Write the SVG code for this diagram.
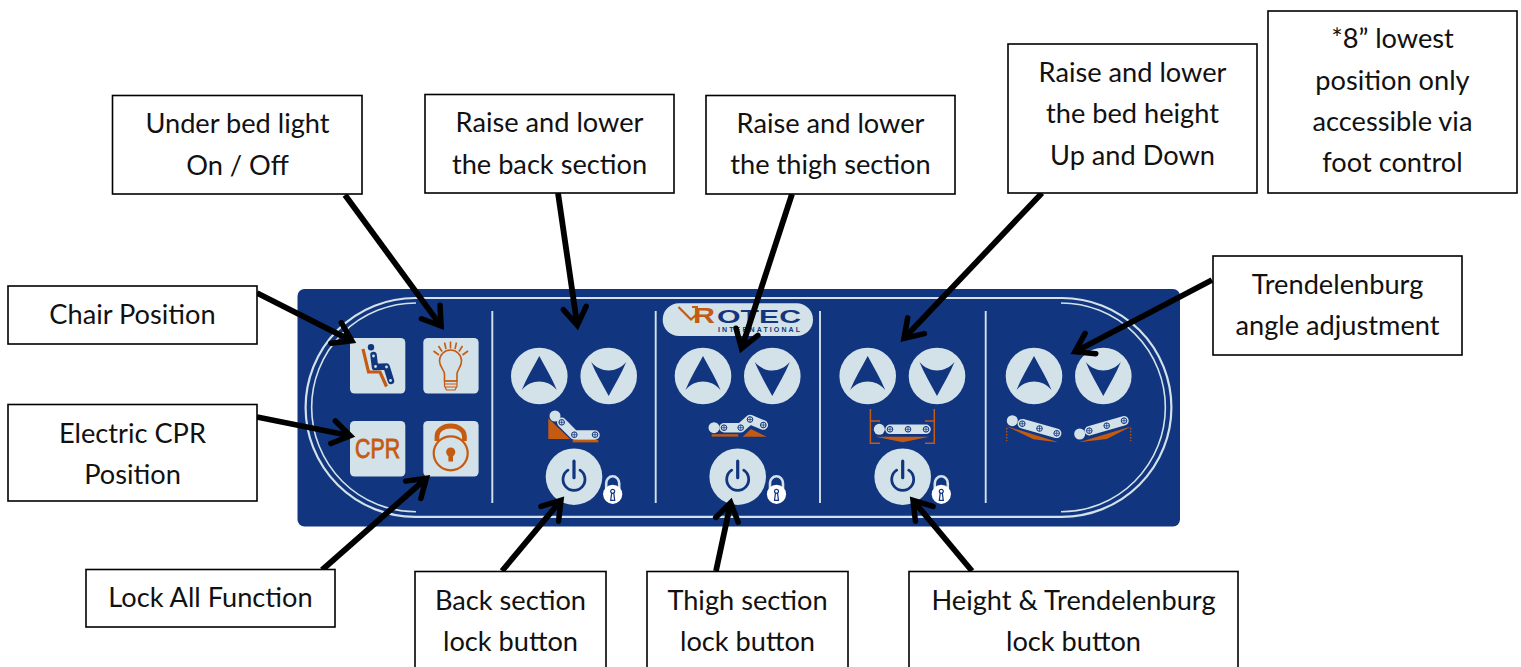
<svg xmlns="http://www.w3.org/2000/svg" width="1521" height="667" viewBox="0 0 1521 667">
<style>
.box{fill:#fff;stroke:#000;stroke-width:1.6}
.t{font-family:"Lato","Carlito","Open Sans",sans-serif;font-size:27.2px;fill:#111;text-anchor:middle}
.c{fill:#d2e2e8}
.n{fill:#12357f}
.o{fill:#c55a11}
.ring{fill:none;stroke:#d2e2e8}
.div{stroke:#d2e2e8;stroke-width:1.9}
.link{fill:none;stroke:#d2e2e8;stroke-width:9.5;stroke-linecap:round;stroke-linejoin:round}
.conn{fill:none;stroke:#000;stroke-width:5.8;marker-end:url(#ah)}
</style>
<defs>
<marker id="ah" markerUnits="userSpaceOnUse" markerWidth="60" markerHeight="60" refX="30.8" refY="30" orient="auto" viewBox="0 0 60 60">
<path d="M14.5 18.5 L32 30 L14.5 41.5" fill="none" stroke="#000" stroke-width="5.5" stroke-linecap="round" stroke-linejoin="miter"/>
</marker>
<g id="up"><circle r="28.3" class="c"/><path class="n" d="M0-20 C6-9 13 3 17.5 14 C8 2.7-8 2.7-17.5 14 C-13 3-6-9 0-20Z"/></g>
<g id="down"><circle r="28.3" class="c"/><path class="n" d="M0 20 C6 9 13-3 17.5-14 C8-2.7-8-2.7-17.5-14 C-13-3-6 9 0 20Z"/></g>
<g id="power"><circle r="28.3" class="c"/><path d="M-6-6.5 A11 11 0 1 0 6-6.5" fill="none" stroke="#12357f" stroke-width="2.8" stroke-linecap="round"/><path d="M0-15.5 V1" stroke="#12357f" stroke-width="3.2" stroke-linecap="round"/></g>
<g id="minilock"><path d="M-6.5-3 V-11 A6.5 7 0 0 1 6.5-11 V-3" fill="none" stroke="#d2e2e8" stroke-width="2.6"/><circle r="9.6" fill="#fff"/><circle cy="-3" r="2" fill="none" stroke="#12357f" stroke-width="1.2"/><path d="M-1-1.5 L-2 6 H2 L1-1.5" fill="none" stroke="#12357f" stroke-width="1.2"/></g>
<g id="hole"><circle r="2.8" fill="#d2e2e8" stroke="#12357f" stroke-width="1"/><path d="M-2.8 0 H2.8 M0-2.8 V2.8" stroke="#12357f" stroke-width=".7"/></g>
<rect id="tile" width="55.3" height="55.6" rx="4.5" class="c"/>
</defs>

<g id="panel">
<rect x="297.5" y="289" width="882.5" height="237.5" rx="7" class="n"/>
<path class="ring" stroke-width="2.2" d="M415 298 H1062 A109.4 109.4 0 0 1 1062 516.8 H415 A109.4 109.4 0 0 1 415 298Z"/>
<path class="ring" stroke-width="1.6" d="M416 303 A104.4 104.4 0 0 0 416 511.8"/>
<path class="ring" stroke-width="1.6" d="M1061 303 A104.4 104.4 0 0 1 1061 511.8"/>
<path class="div" d="M492.3 311 V503 M655.7 311 V503 M820 311 V503 M985.7 311 V503"/>
</g>

<g id="btn-chair">
<use href="#tile" x="350" y="338"/>
<circle cx="371" cy="347.3" r="3.2" class="n"/>
<path d="M363 349 L368.5 372 H380 L386.5 386.5" fill="none" stroke="#c55a11" stroke-width="3.2"/>
<path d="M373.5 355 L375 367 L386.5 366.5 L391 381" fill="none" stroke="#12357f" stroke-width="6.5" stroke-linecap="round" stroke-linejoin="round"/>
<circle cx="373.5" cy="356" r="1.4" class="c"/><circle cx="375.5" cy="366.5" r="1.4" class="c"/><circle cx="386.5" cy="367" r="1.4" class="c"/><circle cx="390.5" cy="380.5" r="1.4" class="c"/>
</g>
<g id="btn-light">
<use href="#tile" x="423.3" y="338"/>
<path d="M444.5 381 V374 C444.5 370 439.5 367 439.5 361 A11 11 0 0 1 461.5 361 C461.5 367 457 370 457 374 V381 Z" fill="none" stroke="#c55a11" stroke-width="1.6"/>
<path d="M444.5 381 H457 V386 L455 390 H446.5 L444.5 386Z M444.5 384 H457 M445 387 H456" fill="none" stroke="#c55a11" stroke-width="1.2"/>
<path d="M433.5 351 L439 355 M438.5 346 L442 351.5 M444.5 342.5 L446 349 M450.5 341.5 V348.5 M456.5 342.5 L455 349 M462.5 346 L459 351.5 M468 351 L462.5 355" fill="none" stroke="#c55a11" stroke-width="1.6"/>
</g>
<g id="btn-cpr">
<use href="#tile" x="350" y="421"/>
<text x="377.6" y="0" transform="translate(0 457.7) scale(1 1.04)" font-family="'Liberation Sans',Arial,sans-serif" font-size="26" fill="#c55a11" stroke="#c55a11" stroke-width=".8" text-anchor="middle" textLength="45" lengthAdjust="spacingAndGlyphs">CPR</text>
</g>
<g id="btn-lock">
<use href="#tile" x="423.3" y="421"/>
<path d="M437 441 V436 A13.7 10 0 0 1 464.4 436 V441" fill="none" stroke="#c55a11" stroke-width="4.8"/>
<circle cx="450.7" cy="453.3" r="17" fill="#d2e2e8" stroke="#c55a11" stroke-width="2.2"/>
<circle cx="450.7" cy="452" r="4.6" class="o"/>
<rect x="448.4" y="452" width="4.6" height="9.5" class="o"/>
</g>

<g id="logo">
<rect x="662.7" y="303.3" width="150.3" height="32.7" rx="16.3" class="c"/>
<path d="M678.5 307 L691 319.5 L698 313 M692 307 H698" fill="none" stroke="#c55a11" stroke-width="2.2"/>
<text x="704" y="323" font-family="'Liberation Sans',sans-serif" font-weight="700" font-size="22" fill="#c55a11" text-anchor="middle" textLength="22" lengthAdjust="spacingAndGlyphs">R</text>
<text x="717" y="323" font-family="'Liberation Sans',sans-serif" font-weight="700" font-size="18" fill="#12357f" textLength="84" lengthAdjust="spacingAndGlyphs">OTEC</text>
<text x="718" y="332" font-family="'Liberation Sans',sans-serif" font-weight="700" font-size="7" fill="#12357f" textLength="82" lengthAdjust="spacing">INTERNATIONAL</text>
</g>

<g id="section-back">
<use href="#up" x="539.3" y="376"/><use href="#down" x="608.7" y="376"/>
<path class="o" d="M548.3 418.3 V439 H570Z"/>
<path class="link" d="M561.7 422.3 L574.3 435 H595"/>
<circle cx="555" cy="416" r="5.5" class="c"/>
<use href="#hole" x="561.7" y="422.3"/><use href="#hole" x="574.3" y="434.7"/><use href="#hole" x="595" y="434.7"/>
<rect x="572.7" y="440" width="25.6" height="2.4" class="o"/>
<use href="#power" x="574" y="476.7"/><use href="#minilock" x="612.7" y="494.3"/>
</g>

<g id="section-thigh">
<use href="#up" x="703" y="376"/><use href="#down" x="772.3" y="376"/>
<circle cx="714" cy="427.7" r="5.5" class="c"/>
<path class="link" d="M724 427.7 H740.7 L750 419.5 L763.3 425"/>
<use href="#hole" x="724" y="427.7"/><use href="#hole" x="740.7" y="427.7"/><use href="#hole" x="750" y="419.5"/><use href="#hole" x="763.3" y="425"/>
<rect x="711.7" y="434.2" width="26.6" height="2.4" class="o"/>
<path class="o" d="M742.7 436.7 L751 429 L766.7 436.7Z"/>
<use href="#power" x="737.7" y="476.7"/><use href="#minilock" x="776.5" y="494.3"/>
</g>

<g id="section-height">
<use href="#up" x="867.7" y="376"/><use href="#down" x="937" y="376"/>
<path d="M880 421 H870.4 M870.4 409 V443.3 H880 M925 421 H934.3 M934.3 409 V443.3 H925" fill="none" stroke="#c55a11" stroke-width="1.5"/>
<circle cx="879.3" cy="429.3" r="5.5" class="c"/>
<path class="link" d="M890 429.3 H926"/>
<use href="#hole" x="890" y="429.3"/><use href="#hole" x="908" y="429.3"/><use href="#hole" x="926" y="429.3"/>
<path class="o" d="M875.7 436.7 H929.3 L902.7 442.3Z"/>
<use href="#power" x="902.7" y="476.7"/><use href="#minilock" x="941.3" y="494.3"/>
</g>

<g id="section-trend">
<use href="#up" x="1034" y="376"/><use href="#down" x="1103.3" y="376"/>
<circle cx="1012.3" cy="420.7" r="5.5" class="c"/>
<path class="link" d="M1022.3 423.7 L1056.7 433.3"/>
<use href="#hole" x="1022.3" y="423.7"/><use href="#hole" x="1039.5" y="428.5"/><use href="#hole" x="1056.7" y="433.3"/>
<path class="o" d="M1006 426 L1033.3 439.3 L1058.3 442.3Z"/>
<path d="M1006.7 428 V441 M1130.7 428 V441" stroke="#c55a11" stroke-width="1.2" stroke-dasharray="1.5 1.5"/>
<circle cx="1079.7" cy="434" r="5.5" class="c"/>
<path class="link" d="M1089.3 430.7 L1124 420.7"/>
<use href="#hole" x="1089.3" y="430.7"/><use href="#hole" x="1106.7" y="425.7"/><use href="#hole" x="1124" y="420.7"/>
<path class="o" d="M1079 442.3 L1131.7 426.3 L1106.7 439Z"/>
</g>

<g id="connectors">
<path class="conn" d="M257 293 L350.7 340.3"/>
<path class="conn" d="M345 195 L440.4 325.1"/>
<path class="conn" d="M558 193 L577.1 324.1"/>
<path class="conn" d="M792 194 L741.9 347.3"/>
<path class="conn" d="M1042 193 L904.8 337.6"/>
<path class="conn" d="M1212 280 L1076 351.2"/>
<path class="conn" d="M257 417 L349.1 435.5"/>
<path class="conn" d="M322 570 L425.5 479"/>
<path class="conn" d="M502 571 L560.2 501.3"/>
<path class="conn" d="M716 571 L730.4 503.9"/>
<path class="conn" d="M972 571 L913.8 501.3"/>
</g>

<g id="n-light"><rect class="box" x="112.5" y="95.5" width="249.5" height="98.5"/><text class="t" x="237.5" y="133">Under bed light</text><text class="t" x="237.5" y="175">On / Off</text></g>
<g id="n-back"><rect class="box" x="425" y="94.5" width="249" height="98.5"/><text class="t" x="549.5" y="132">Raise and lower</text><text class="t" x="549.5" y="174">the back section</text></g>
<g id="n-thigh"><rect class="box" x="706" y="95.5" width="249" height="98.5"/><text class="t" x="830.5" y="133">Raise and lower</text><text class="t" x="830.5" y="174">the thigh section</text></g>
<g id="n-height"><rect class="box" x="1008" y="44" width="249" height="149"/><text class="t" x="1132.5" y="82">Raise and lower</text><text class="t" x="1132.5" y="123">the bed height</text><text class="t" x="1132.5" y="165">Up and Down</text></g>
<g id="n-lowest"><rect class="box" x="1268" y="11" width="249" height="182"/><text class="t" x="1392.5" y="48">*8” lowest</text><text class="t" x="1392.5" y="90">position only</text><text class="t" x="1392.5" y="131">accessible via</text><text class="t" x="1392.5" y="172">foot control</text></g>
<g id="n-trend"><rect class="box" x="1213" y="256" width="249" height="99"/><text class="t" x="1337.5" y="294">Trendelenburg</text><text class="t" x="1337.5" y="335">angle adjustment</text></g>
<g id="n-chair"><rect class="box" x="8" y="286" width="249" height="58"/><text class="t" x="132.5" y="324">Chair Position</text></g>
<g id="n-cpr"><rect class="box" x="8" y="404.5" width="249" height="96.5"/><text class="t" x="132.5" y="443">Electric CPR</text><text class="t" x="132.5" y="484">Position</text></g>
<g id="n-lockall"><rect class="box" x="86" y="569.5" width="249" height="57.5"/><text class="t" x="210.5" y="607">Lock All Function</text></g>
<g id="n-backlock"><rect class="box" x="415" y="571.5" width="191" height="100"/><text class="t" x="510.5" y="610">Back section</text><text class="t" x="510.5" y="651">lock button</text></g>
<g id="n-thighlock"><rect class="box" x="647" y="571.5" width="201" height="100"/><text class="t" x="747.5" y="610">Thigh section</text><text class="t" x="747.5" y="651">lock button</text></g>
<g id="n-heightlock"><rect class="box" x="909" y="571.5" width="329" height="100"/><text class="t" x="1073.5" y="610">Height &amp; Trendelenburg</text><text class="t" x="1073.5" y="651">lock button</text></g>
</svg>
